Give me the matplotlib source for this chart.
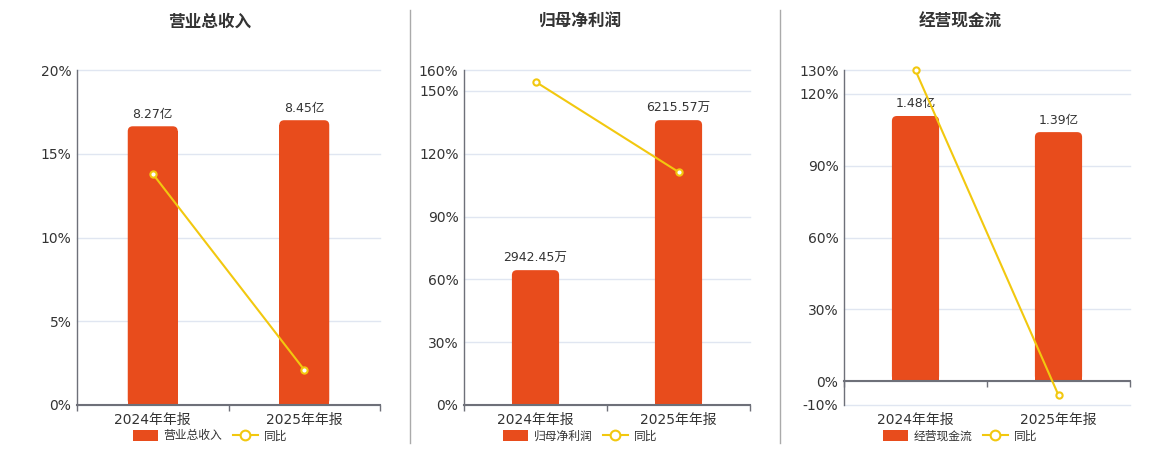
import matplotlib
matplotlib.use('Agg')
import matplotlib.pyplot as plt
from matplotlib.patches import FancyBboxPatch
from matplotlib.lines import Line2D

plt.rcParams['font.family'] = ['DejaVu Sans', 'Noto Sans CJK SC']

# data
categories = ['2024年年报', '2025年年报']
titles = ['营业总收入', '归母净利润', '经营现金流']

revenue = [8.27, 8.45]
revenue_labels = ['8.27亿', '8.45亿']
revenue_yoy = [13.8, 2.1]

profit = [2942.45, 6215.57]
profit_labels = ['2942.45万', '6215.57万']
profit_yoy = [154.4, 111.3]

cashflow = [1.48, 1.39]
cashflow_labels = ['1.48亿', '1.39亿']
cashflow_yoy = [129.8, -5.9]

pct_ticks = [[0, 5, 10, 15, 20],
             [0, 30, 60, 90, 120, 150, 160],
             [-10, 0, 30, 60, 90, 120, 130]]

BAR_COLOR = '#e84c1c'
LINE_COLOR = '#f2c80f'
AXIS_COLOR = '#6e7079'
GRID_COLOR = '#e0e6f1'
TEXT_COLOR = '#333333'

W, H = 1160, 450
# axes boxes in pixels: left, right, top, bottom
boxes = [(77, 380, 70, 405), (464, 750, 70, 405), (844, 1130, 70, 405)]
bar_ylims = [(0, 9.94), (0, 7310), (-10 * 0.01336, 130 * 0.01336)]
centers = [210, 580, 960]

panels = [(revenue, revenue_labels, revenue_yoy),
          (profit, profit_labels, profit_yoy),
          (cashflow, cashflow_labels, cashflow_yoy)]

fig = plt.figure(figsize=(W / 100, H / 100), dpi=100)

for i, (vals, labels, yoy) in enumerate(panels):
    l, r, t, b = boxes[i]
    rect = [l / W, 1 - b / H, (r - l) / W, (b - t) / H]
    ax = fig.add_axes(rect)
    x = list(range(len(categories)))
    lo, hi = pct_ticks[i][0], pct_ticks[i][-1]

    # percent axis: grid, ticks, labels
    ax.set_xlim(-0.5, len(categories) - 0.5)
    ax.set_ylim(lo, hi)
    ax.set_yticks(pct_ticks[i])
    ax.set_yticklabels([f'{v}%' for v in pct_ticks[i]])
    ax.set_xticks(x)
    ax.set_xticklabels(categories)
    ax.tick_params(axis='both', length=0, labelsize=10, colors=TEXT_COLOR)
    ax.tick_params(axis='y', pad=4)
    ax.tick_params(axis='x', pad=6)
    ax.grid(axis='y', color=GRID_COLOR, linewidth=1, clip_on=False)
    ax.set_axisbelow(True)
    for s in ['top', 'right', 'bottom']:
        ax.spines[s].set_visible(False)
    ax.spines['left'].set_color(AXIS_COLOR)
    ax.spines['left'].set_linewidth(1)

    # bar axis (hidden scale)
    ax_bar = ax.twinx()
    ax_bar.set_ylim(*bar_ylims[i])
    ax_bar.axis('off')
    width = 0.33
    bars = ax_bar.bar(x, vals, width=width, color=BAR_COLOR, zorder=2)
    xpp = (len(categories)) / (r - l)
    ypp = (bar_ylims[i][1] - bar_ylims[i][0]) / (b - t)
    rad = 5
    for bar, lab in zip(bars, labels):
        h = bar.get_height()
        rp = FancyBboxPatch((bar.get_x(), 0), bar.get_width(), h,
                            boxstyle=f'round,pad=0,rounding_size={rad * xpp}',
                            mutation_aspect=ypp / xpp, fc=BAR_COLOR, ec='none', zorder=2)
        ax_bar.add_patch(rp)
        bar.set_height(h - rad * ypp)
        ax_bar.annotate(lab, (bar.get_x() + bar.get_width() / 2, h), xytext=(0, 4),
                        textcoords='offset points', ha='center', va='bottom',
                        fontsize=9, color=TEXT_COLOR)

    # line axis on top, same scale as percent axis
    ax_line = ax.twinx()
    ax_line.set_ylim(lo, hi)
    ax_line.axis('off')
    ax_line.plot(x, yoy, color=LINE_COLOR, linewidth=1.5, marker='o', markersize=4.5,
                 markerfacecolor='white', markeredgecolor=LINE_COLOR, markeredgewidth=1.5,
                 clip_on=False, zorder=3)

    # x axis line at zero with boundary ticks
    zero_frac = (0 - lo) / (hi - lo)
    sec = ax_line.secondary_xaxis(zero_frac)
    sec.set_xticks([k - 0.5 for k in range(len(categories) + 1)])
    sec.set_xticklabels([])
    sec.tick_params(axis='x', direction='out', length=4, color=AXIS_COLOR, width=1)
    sec.spines['bottom'].set_color(AXIS_COLOR)
    sec.spines['bottom'].set_linewidth(1.5)

    fig.text(centers[i] / W, 1 - 22 / H, titles[i], ha='center', va='center',
             fontsize=12, fontweight='bold', color=TEXT_COLOR)

    handles = [plt.Rectangle((0, 0), 1, 1, fc=BAR_COLOR, ec='none'),
               Line2D([], [], color=LINE_COLOR, linewidth=1.5, marker='o', markersize=7,
                      markerfacecolor='white', markeredgecolor=LINE_COLOR, markeredgewidth=1.5)]
    fig.legend(handles, [titles[i], '同比'], loc='center', ncol=2, frameon=False,
               bbox_to_anchor=(centers[i] / W, 1 - 436 / H), fontsize=8.5,
               handlelength=2.1, handleheight=1.1, handletextpad=0.5, columnspacing=0.9,
               labelcolor=TEXT_COLOR, borderpad=0, borderaxespad=0)

# separators between panels
for sx in [410, 780]:
    fig.add_artist(Line2D([sx / W, sx / W], [1 - 443 / H, 1 - 10 / H],
                          color='#aaaaaa', linewidth=1))

fig.savefig('out.png', dpi=100)
